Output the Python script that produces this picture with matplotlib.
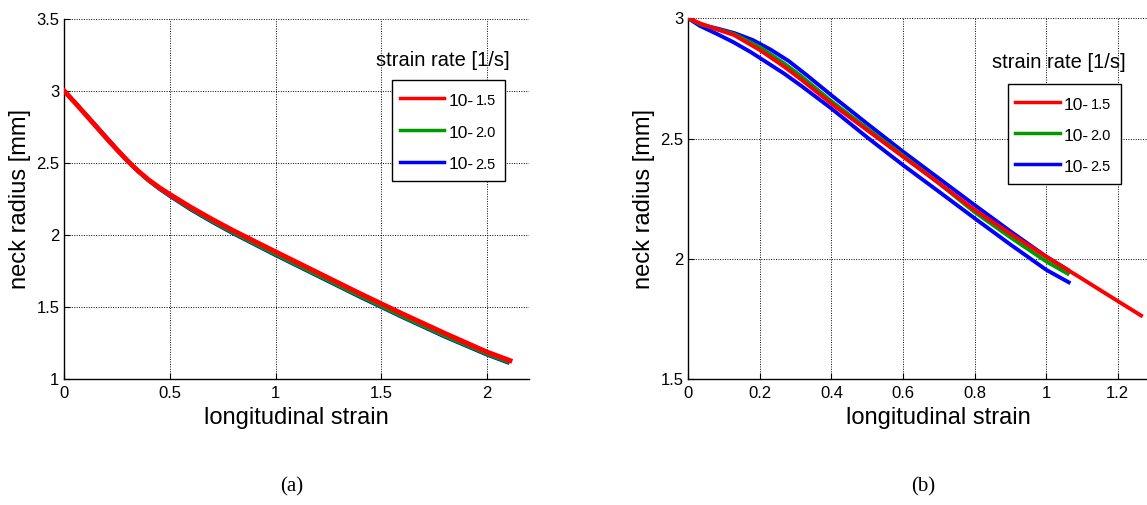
"""Neck radius vs longitudinal strain for three strain rates, panels (a) and (b)."""

import matplotlib
matplotlib.use("Agg")
import matplotlib.pyplot as plt
from matplotlib.lines import Line2D
from matplotlib.patches import Rectangle

plt.rcParams["font.family"] = ["Liberation Sans", "DejaVu Sans"]

RATE_BASE = "10-"
RATE_EXP = ["1.5", "2.0", "2.5"]
COLORS = ["#ff0000", "#009900", "#0000ff"]

# panel (a)
a_red_x = [0, 0.05, 0.1, 0.15, 0.2, 0.25, 0.3, 0.35, 0.4, 0.45, 0.5, 0.6, 0.7, 0.8, 0.9, 1.0,
           1.2, 1.4, 1.6, 1.8, 2.0, 2.11]
a_red_y = [3.0, 2.92, 2.838, 2.755, 2.672, 2.592, 2.515, 2.445, 2.383, 2.33, 2.283, 2.193, 2.11,
           2.032, 1.958, 1.885, 1.74, 1.595, 1.455, 1.32, 1.19, 1.13]
a_green_x = [0, 0.05, 0.1, 0.15, 0.2, 0.25, 0.3, 0.35, 0.4, 0.45, 0.5, 0.6, 0.7, 0.8, 0.9, 1.0,
             1.2, 1.4, 1.6, 1.8, 2.0, 2.10]
a_green_y = [3.0, 2.92, 2.838, 2.755, 2.672, 2.59, 2.511, 2.44, 2.376, 2.322, 2.274, 2.18, 2.095,
             2.015, 1.94, 1.865, 1.72, 1.575, 1.435, 1.3, 1.175, 1.12]
a_blue_x = [0, 0.05, 0.1, 0.15, 0.2, 0.25, 0.3, 0.35, 0.4, 0.45, 0.5, 0.6, 0.7, 0.8, 0.9, 1.0,
            1.2, 1.4, 1.6, 1.8, 2.0, 2.10]
a_blue_y = [3.0, 2.923, 2.843, 2.762, 2.68, 2.598, 2.518, 2.444, 2.377, 2.32, 2.27, 2.175, 2.09,
            2.01, 1.935, 1.86, 1.715, 1.57, 1.43, 1.295, 1.17, 1.115]

# panel (b)
b_red_x = [0, 0.033, 0.08, 0.127, 0.2, 0.268, 0.315, 0.4, 0.5, 0.6, 0.7, 0.8, 0.9, 1.0, 1.1,
           1.2, 1.265]
b_red_y = [3.0, 2.979, 2.954, 2.931, 2.868, 2.799, 2.746, 2.645, 2.535, 2.425, 2.315, 2.204,
           2.105, 2.01, 1.918, 1.825, 1.765]
b_green_x = [0, 0.033, 0.08, 0.127, 0.2, 0.268, 0.315, 0.4, 0.5, 0.6, 0.7, 0.8, 0.9, 1.0, 1.06]
b_green_y = [3.0, 2.976, 2.955, 2.935, 2.88, 2.812, 2.76, 2.655, 2.542, 2.43, 2.315, 2.195, 2.09,
             1.99, 1.939]
b_blue1_x = [0, 0.03, 0.08, 0.13, 0.18, 0.23, 0.28, 0.33, 0.4, 0.5, 0.6, 0.7, 0.8, 0.9, 1.0,
             1.06]
b_blue1_y = [3.0, 2.975, 2.958, 2.938, 2.91, 2.87, 2.823, 2.765, 2.68, 2.562, 2.446, 2.335,
             2.224, 2.115, 2.01, 1.955]
b_blue2_x = [0, 0.033, 0.08, 0.127, 0.174, 0.221, 0.268, 0.315, 0.4, 0.5, 0.6, 0.7, 0.8, 0.9,
             1.0, 1.063]
b_blue2_y = [3.0, 2.968, 2.935, 2.9, 2.86, 2.815, 2.77, 2.72, 2.625, 2.505, 2.39, 2.28, 2.169,
             2.06, 1.955, 1.903]

W, H = 1147, 505
fig = plt.figure(figsize=(W / 100, H / 100), dpi=100)


def fx(px):
    return px / W


def fy(py):
    return 1 - py / H


def px_axes(left, right, top, bottom):
    return fig.add_axes([fx(left), fy(bottom), (right - left) / W, (bottom - top) / H])


def style_axes(ax, xticks, yticks):
    ax.set_xticks(xticks)
    ax.set_yticks(yticks)
    ax.set_xticklabels([f"{v:g}" for v in xticks])
    ax.set_yticklabels([f"{v:g}" for v in yticks])
    ax.grid(True, color="black", linestyle=(0, (1, 1.5)), linewidth=0.7)
    ax.set_axisbelow(True)
    for side in ("top", "right"):
        ax.spines[side].set_visible(False)
    for side in ("left", "bottom"):
        ax.spines[side].set_linewidth(1.0)
    ax.tick_params(direction="in", length=4, labelsize=12)
    ax.tick_params(axis="x", pad=5)
    ax.tick_params(axis="y", pad=3.5)
    ax.set_xlabel("longitudinal strain", fontsize=17, labelpad=4)
    ax.set_ylabel("neck radius [mm]", fontsize=17, labelpad=4)


def draw_legend(left, right, top, bottom, rows, key_x0, key_x1, text_x, title_xy):
    """MATLAB-like legend box with the title sitting above it."""
    fig.add_artist(Rectangle((fx(left), fy(bottom)), (right - left) / W, (bottom - top) / H,
                             transform=fig.transFigure, facecolor="white",
                             edgecolor="black", linewidth=1.0, zorder=10))
    renderer = fig.canvas.get_renderer()
    for row_y, color, exp in zip(rows, COLORS, RATE_EXP):
        fig.add_artist(Line2D([fx(key_x0), fx(key_x1)], [fy(row_y), fy(row_y)],
                              transform=fig.transFigure, color=color, lw=2.5, zorder=11))
        base = fig.text(fx(text_x), fy(row_y + 3), RATE_BASE, fontsize=12.5, ha="left",
                        va="center", zorder=11)
        x_end = base.get_window_extent(renderer).x1
        fig.text((x_end + 1.5) / W, fy(row_y + 3), exp, fontsize=10.5, ha="left",
                 va="center", zorder=11)
    fig.text(fx(title_xy[0]), fy(title_xy[1]), "strain rate [1/s]", fontsize=14.5,
             ha="center", va="center")


# (a)
ax1 = px_axes(64.3, 529, 19, 379.3)
ax1.plot(a_blue_x, a_blue_y, color=COLORS[2], lw=2.5, zorder=3)
ax1.plot(a_green_x, a_green_y, color=COLORS[1], lw=2.5, zorder=4)
ax1.plot(a_red_x, a_red_y, color=COLORS[0], lw=3.5, zorder=5)
ax1.set_xlim(0, 2.2)
ax1.set_ylim(1, 3.5)
style_axes(ax1, [0, 0.5, 1, 1.5, 2], [1, 1.5, 2, 2.5, 3, 3.5])
draw_legend(392, 505, 80, 181, [98.3, 130, 161.7], 400, 444, 449, (443, 60))

# (b)
ax2 = px_axes(688.3, 688.3 + 1.4 * 357.9, 18.3, 379.3)
ax2.plot(b_blue1_x, b_blue1_y, color=COLORS[2], lw=2.8, zorder=3)
ax2.plot(b_blue2_x, b_blue2_y, color=COLORS[2], lw=2.8, zorder=3)
ax2.plot(b_green_x, b_green_y, color=COLORS[1], lw=2.8, zorder=4)
ax2.plot(b_red_x, b_red_y, color=COLORS[0], lw=2.8, zorder=5)
ax2.set_xlim(0, 1.4)
ax2.set_ylim(1.5, 3)
style_axes(ax2, [0, 0.2, 0.4, 0.6, 0.8, 1, 1.2], [1.5, 2, 2.5, 3])
ax2.set_xticks([1.4], minor=True)
ax2.grid(True, which="minor", axis="x", color="black", linestyle=(0, (1, 1.5)), linewidth=0.7)
draw_legend(1008, 1121, 84, 184, [102.3, 133.3, 164.3], 1015, 1060, 1064, (1059, 63))

fig.text(fx(292), fy(487), "(a)", fontsize=15, family="Liberation Serif",
         ha="center", va="center")
fig.text(fx(923), fy(487), "(b)", fontsize=15, family="Liberation Serif",
         ha="center", va="center")

fig.savefig("out.png", dpi=100)
